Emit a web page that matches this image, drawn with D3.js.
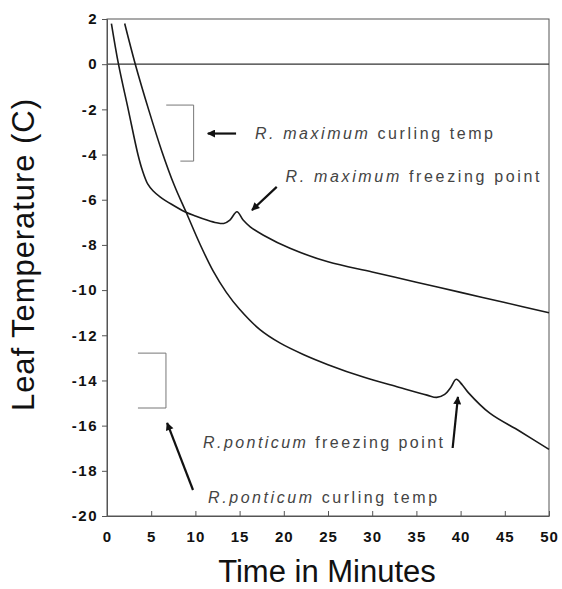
<!DOCTYPE html>
<html>
<head>
<meta charset="utf-8">
<script src="https://cdn.jsdelivr.net/npm/d3@7"></script>
<style>
	body{margin:0;background:#fff;}
	text{font-family:"Liberation Sans",Arial,Helvetica,sans-serif;}
	.tick text{font-weight:bold;font-size:15px;fill:#111;}
	.note{font-size:16px;fill:#444;}
</style>
</head>
<body>
<div class="chart_div"></div>
<script>
// R. maximum leaf (minutes, deg C)
var max_time = [0.5,1.3,2.4,3.5,4.0,4.6,5.2,6.0,7.3,8.8,10.0,11.3,12.4,13.2,13.9,14.7,15.4,16.2,17.7,20.7,25,30,35,40,45,50];
var max_temp = [1.8,0,-2,-4,-4.7,-5.3,-5.6,-5.87,-6.2,-6.53,-6.72,-6.9,-7.02,-7.05,-6.9,-6.53,-6.9,-7.2,-7.57,-8.15,-8.75,-9.2,-9.65,-10.1,-10.55,-11.0];
// R. ponticum leaf
var pon_time = [2.0,3.2,4.7,6.2,7.6,9.0,10.5,12.0,13.5,15.0,17.3,19.6,22.2,25,29,33,36.2,37.3,38.2,38.9,39.5,40.2,40.9,43.3,46.7,50];
var pon_temp = [1.8,0,-2,-3.85,-5.35,-6.6,-7.95,-9.15,-10.1,-10.85,-11.75,-12.35,-12.85,-13.3,-13.85,-14.3,-14.65,-14.75,-14.62,-14.3,-13.95,-14.2,-14.55,-15.45,-16.25,-17.05];

var x_ticks = [0,5,10,15,20,25,30,35,40,45,50];
var y_ticks = [2,0,-2,-4,-6,-8,-10,-12,-14,-16,-18,-20];

// curling temperature ranges [t_top, t_bottom, t_right, temp_top, temp_bottom]
var brackets = [[6.7,8.3,9.8,-1.81,-4.29],[3.5,3.5,6.67,-12.79,-15.22]];
// arrows [t_from, temp_from, t_to, temp_to]
var arrows = [[14.6,-3.07,11.4,-3.07],[19.2,-5.43,16.4,-6.46],[9.73,-18.85,6.8,-15.88],[39.1,-16.99,39.7,-14.73]];
var note_sp = ["R. maximum","R. maximum","R.ponticum","R.ponticum"];
var note_txt = [" curling temp"," freezing point"," freezing point"," curling temp"];
var note_at = [[16.74,-3.3],[20.2,-5.2],[10.86,-17.0],[11.43,-19.42]];
var note_w = [238,254,240,229];

var W = 562, H = 589;
var pl = 107, pr = 549, pt = 19, pb = 516;

var x = d3.scaleLinear().domain([0,50]).range([pl,pr]);
var y = d3.scaleLinear().domain([-20,2]).range([pb,pt]);

var svg = d3.select(".chart_div").append("svg")
			.attr("width",W)
			.attr("height",H);

svg.append("defs").append("marker")
	.attr("id","head")
	.attr("viewBox","0 0 10 10")
	.attr("refX",9)
	.attr("refY",5)
	.attr("markerUnits","userSpaceOnUse")
	.attr("markerWidth",10)
	.attr("markerHeight",8)
	.attr("orient","auto")
	.append("path")
	.attr("d","M0,0L10,5L0,10z")
	.attr("fill","#111");

// frame
svg.append("rect")
	.attr("x",pl)
	.attr("y",pt)
	.attr("width",pr-pl)
	.attr("height",pb-pt)
	.attr("fill","none")
	.attr("stroke","#555")
	.attr("stroke-width",1);

svg.append("line")
	.attr("x1",x(0)).attr("x2",x(50))
	.attr("y1",y(0)).attr("y2",y(0))
	.attr("stroke","#333")
	.attr("stroke-width",1.2);

svg.append("g")
	.attr("transform","translate(" + pl + ",0)")
	.call(d3.axisLeft(y).tickValues(y_ticks).tickSize(5).tickPadding(4)
		.tickFormat(function(d){ return d < 0 ? "-" + Math.abs(d) : d; }))
	.call(function(g){
		g.select(".domain").attr("stroke","#555");
		g.selectAll(".tick line").attr("stroke","#555");
		g.selectAll(".tick text").attr("letter-spacing",1.5);
	});

svg.append("g")
	.attr("transform","translate(0," + pb + ")")
	.call(d3.axisBottom(x).tickValues(x_ticks).tickSizeInner(-5).tickSizeOuter(0).tickPadding(15))
	.call(function(g){
		g.select(".domain").attr("stroke","#555");
		g.selectAll(".tick line").attr("stroke","#555");
		g.selectAll(".tick text").attr("letter-spacing",1);
	});

var line = d3.line()
			.x(function(d){ return x(d[0]); })
			.y(function(d){ return y(d[1]); })
			.curve(d3.curveCatmullRom.alpha(0.5));

[[max_time,max_temp],[pon_time,pon_temp]].forEach(function(s){
	svg.append("path")
		.datum(d3.zip(s[0],s[1]))
		.attr("d",line)
		.attr("fill","none")
		.attr("stroke","#1a1a1a")
		.attr("stroke-width",1.6);
});

svg.selectAll(".bracket")
	.data(brackets)
	.enter()
	.append("path")
	.attr("class","bracket")
	.attr("d",function(d){
		return "M" + x(d[0]) + "," + y(d[3]) + "H" + x(d[2]) + "V" + y(d[4]) + "H" + x(d[1]);
	})
	.attr("fill","none")
	.attr("stroke","#777")
	.attr("stroke-width",1);

svg.selectAll(".arrow")
	.data(arrows)
	.enter()
	.append("line")
	.attr("class","arrow")
	.attr("x1",function(d){ return x(d[0]); })
	.attr("y1",function(d){ return y(d[1]); })
	.attr("x2",function(d){ return x(d[2]); })
	.attr("y2",function(d){ return y(d[3]); })
	.attr("stroke","#111")
	.attr("stroke-width",2.2)
	.attr("marker-end","url(#head)");

var notes = svg.selectAll(".note")
	.data(note_at)
	.enter()
	.append("text")
	.attr("class","note")
	.attr("x",function(d){ return x(d[0]); })
	.attr("y",function(d){ return y(d[1]); })
	.attr("textLength",function(d,i){ return note_w[i]; })
	.attr("lengthAdjust","spacing");

notes.append("tspan")
	.attr("font-style","italic")
	.text(function(d,i){ return note_sp[i]; });
notes.append("tspan")
	.text(function(d,i){ return note_txt[i]; });

svg.append("text")
	.attr("transform","translate(34,255) rotate(-90)")
	.attr("text-anchor","middle")
	.attr("font-size",31)
	.attr("textLength",312)
	.attr("lengthAdjust","spacing")
	.attr("fill","#111")
	.text("Leaf Temperature (C)");

svg.append("text")
	.attr("x",327)
	.attr("y",582)
	.attr("text-anchor","middle")
	.attr("font-size",31)
	.attr("fill","#111")
	.text("Time in Minutes");
</script>
</body>
</html>
